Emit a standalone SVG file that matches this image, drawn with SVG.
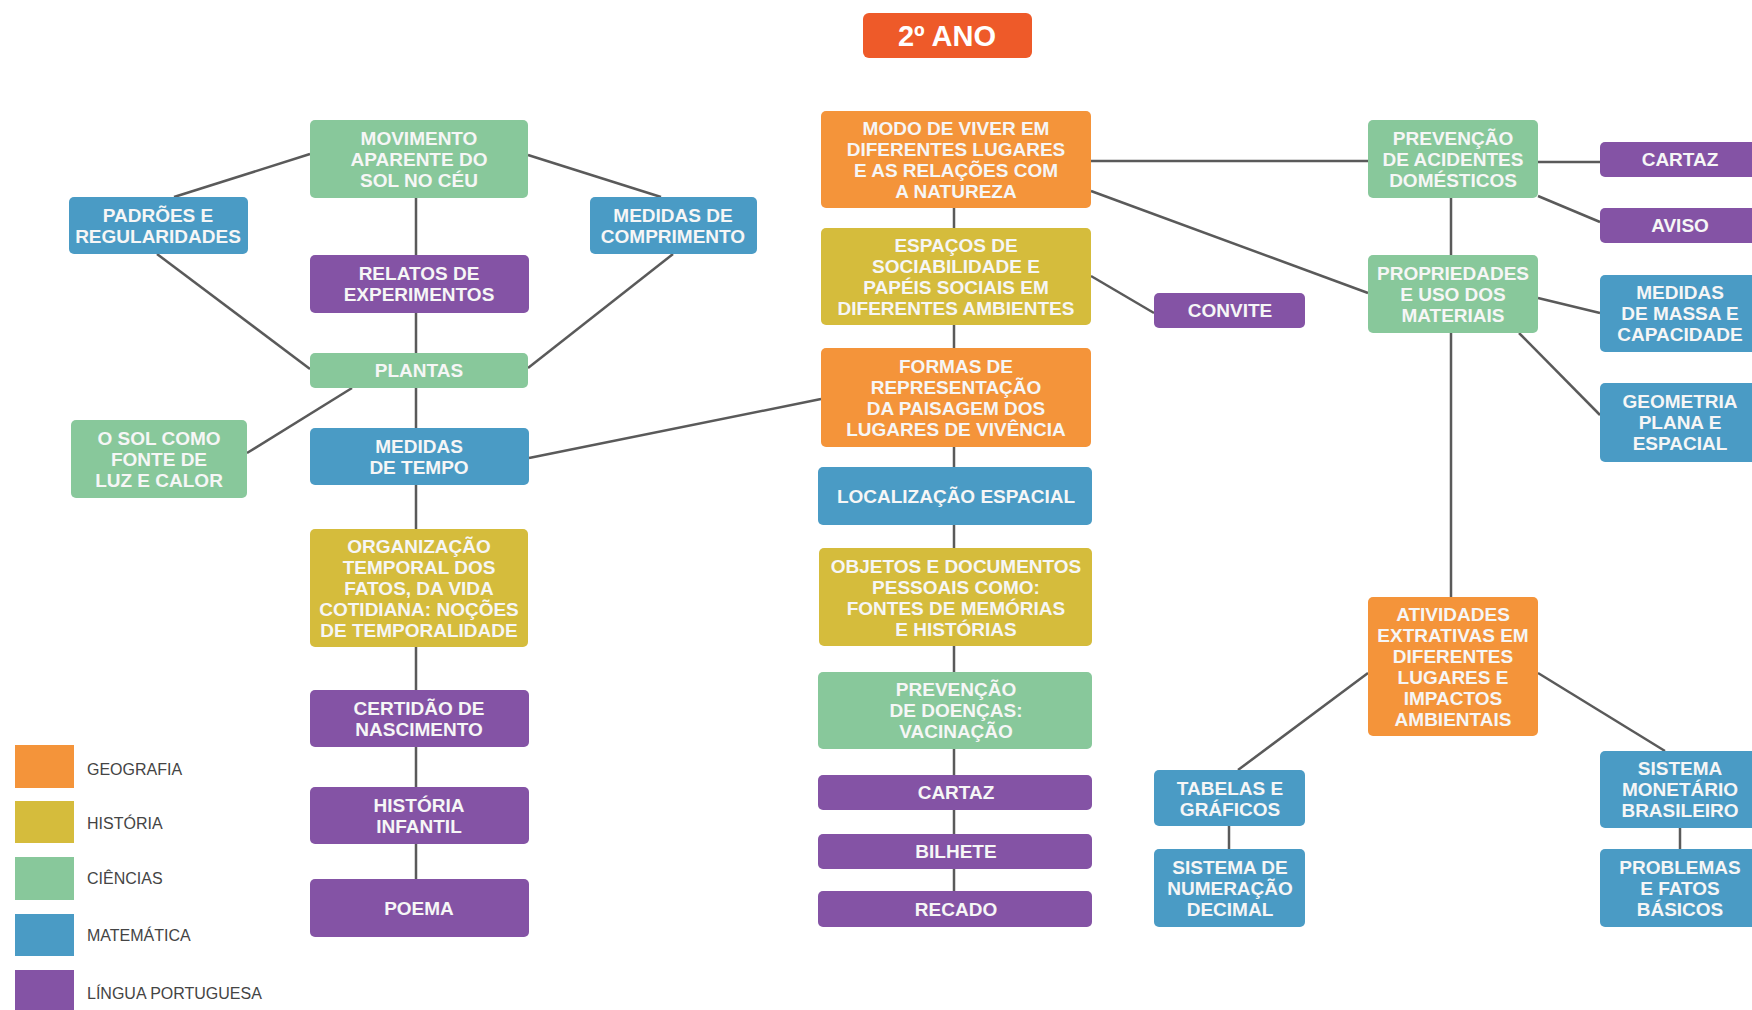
<svg xmlns="http://www.w3.org/2000/svg" width="1752" height="1010" viewBox="0 0 1752 1010">
<style>
.bx{stroke:none}
.geo{fill:#F4943A}
.his{fill:#D5BC3C}
.cie{fill:#88C89B}
.mat{fill:#4A9BC5}
.lp{fill:#8453A5}
.t{font-family:"Liberation Sans",Arial,sans-serif;font-weight:bold;font-size:19px;fill:#F6F6F6;text-anchor:middle}
.lg{font-family:"Liberation Sans",Arial,sans-serif;font-size:16px;fill:#444}
.c line{stroke:#5A5A5A;stroke-width:2.5}
</style>
<rect width="1752" height="1010" fill="#FFFFFF"/>
<g class="c" id="connectors">
<line x1="416" y1="198" x2="416" y2="879"/>
<line x1="310" y1="154" x2="174" y2="197"/>
<line x1="157" y1="254" x2="310" y2="369"/>
<line x1="352" y1="388" x2="247" y2="453"/>
<line x1="528" y1="155" x2="661" y2="197"/>
<line x1="673" y1="254" x2="528" y2="368"/>
<line x1="529" y1="458" x2="821" y2="399"/>
<line x1="954" y1="208" x2="954" y2="891"/>
<line x1="1091" y1="161" x2="1368" y2="161"/>
<line x1="1091" y1="191" x2="1368" y2="293"/>
<line x1="1091" y1="276" x2="1154" y2="313"/>
<line x1="1538" y1="162" x2="1600" y2="162"/>
<line x1="1538" y1="196" x2="1600" y2="222"/>
<line x1="1451" y1="198" x2="1451" y2="597"/>
<line x1="1538" y1="298" x2="1600" y2="313"/>
<line x1="1519" y1="333" x2="1600" y2="415"/>
<line x1="1368" y1="673" x2="1238" y2="770"/>
<line x1="1538" y1="673" x2="1665" y2="751"/>
<line x1="1229" y1="826" x2="1229" y2="849"/>
<line x1="1680" y1="828" x2="1680" y2="849"/>
</g>
<g id="n-ano"><rect x="863" y="13" width="169" height="45" rx="6" fill="#EE5A29"/><text x="947" y="46" font-family="Liberation Sans, Arial, sans-serif" font-weight="bold" font-size="29" fill="#FFFFFF" text-anchor="middle">2º ANO</text></g>
<g id="n-movimento"><rect class="bx cie" x="310" y="120" width="218" height="78" rx="5"/><text class="t"><tspan x="419" y="145">MOVIMENTO</tspan><tspan x="419" y="166">APARENTE DO</tspan><tspan x="419" y="187">SOL NO CÉU</tspan></text></g>
<g id="n-padroes"><rect class="bx mat" x="69" y="197" width="179" height="57" rx="5"/><text class="t"><tspan x="158" y="222">PADRÕES E</tspan><tspan x="158" y="243">REGULARIDADES</tspan></text></g>
<g id="n-medcomp"><rect class="bx mat" x="590" y="197" width="167" height="57" rx="5"/><text class="t"><tspan x="673" y="222">MEDIDAS DE</tspan><tspan x="673" y="243">COMPRIMENTO</tspan></text></g>
<g id="n-relatos"><rect class="bx lp" x="310" y="255" width="219" height="58" rx="5"/><text class="t"><tspan x="419" y="280">RELATOS DE</tspan><tspan x="419" y="301">EXPERIMENTOS</tspan></text></g>
<g id="n-plantas"><rect class="bx cie" x="310" y="353" width="218" height="35" rx="5"/><text class="t" x="419" y="377">PLANTAS</text></g>
<g id="n-osol"><rect class="bx cie" x="71" y="420" width="176" height="78" rx="5"/><text class="t"><tspan x="159" y="445">O SOL COMO</tspan><tspan x="159" y="466">FONTE DE</tspan><tspan x="159" y="487">LUZ E CALOR</tspan></text></g>
<g id="n-medtempo"><rect class="bx mat" x="310" y="428" width="219" height="57" rx="5"/><text class="t"><tspan x="419" y="453">MEDIDAS</tspan><tspan x="419" y="474">DE TEMPO</tspan></text></g>
<g id="n-organizacao"><rect class="bx his" x="310" y="529" width="218" height="118" rx="5"/><text class="t"><tspan x="419" y="553">ORGANIZAÇÃO</tspan><tspan x="419" y="574">TEMPORAL DOS</tspan><tspan x="419" y="595">FATOS, DA VIDA</tspan><tspan x="419" y="616">COTIDIANA: NOÇÕES</tspan><tspan x="419" y="637">DE TEMPORALIDADE</tspan></text></g>
<g id="n-certidao"><rect class="bx lp" x="310" y="690" width="219" height="57" rx="5"/><text class="t"><tspan x="419" y="715">CERTIDÃO DE</tspan><tspan x="419" y="736">NASCIMENTO</tspan></text></g>
<g id="n-historia"><rect class="bx lp" x="310" y="787" width="219" height="57" rx="5"/><text class="t"><tspan x="419" y="812">HISTÓRIA</tspan><tspan x="419" y="833">INFANTIL</tspan></text></g>
<g id="n-poema"><rect class="bx lp" x="310" y="879" width="219" height="58" rx="5"/><text class="t" x="419" y="915">POEMA</text></g>
<g id="n-modo"><rect class="bx geo" x="821" y="111" width="270" height="97" rx="5"/><text class="t"><tspan x="956" y="135">MODO DE VIVER EM</tspan><tspan x="956" y="156">DIFERENTES LUGARES</tspan><tspan x="956" y="177">E AS RELAÇÕES COM</tspan><tspan x="956" y="198">A NATUREZA</tspan></text></g>
<g id="n-espacos"><rect class="bx his" x="821" y="228" width="270" height="97" rx="5"/><text class="t"><tspan x="956" y="252">ESPAÇOS DE</tspan><tspan x="956" y="273">SOCIABILIDADE E</tspan><tspan x="956" y="294">PAPÉIS SOCIAIS EM</tspan><tspan x="956" y="315">DIFERENTES AMBIENTES</tspan></text></g>
<g id="n-formas"><rect class="bx geo" x="821" y="348" width="270" height="99" rx="5"/><text class="t"><tspan x="956" y="373">FORMAS DE</tspan><tspan x="956" y="394">REPRESENTAÇÃO</tspan><tspan x="956" y="415">DA PAISAGEM DOS</tspan><tspan x="956" y="436">LUGARES DE VIVÊNCIA</tspan></text></g>
<g id="n-localizacao"><rect class="bx mat" x="818" y="467" width="274" height="58" rx="5"/><text class="t" x="956" y="503">LOCALIZAÇÃO ESPACIAL</text></g>
<g id="n-objetos"><rect class="bx his" x="819" y="548" width="273" height="98" rx="5"/><text class="t"><tspan x="956" y="573">OBJETOS E DOCUMENTOS</tspan><tspan x="956" y="594">PESSOAIS COMO:</tspan><tspan x="956" y="615">FONTES DE MEMÓRIAS</tspan><tspan x="956" y="636">E HISTÓRIAS</tspan></text></g>
<g id="n-prevdoencas"><rect class="bx cie" x="818" y="672" width="274" height="77" rx="5"/><text class="t"><tspan x="956" y="696">PREVENÇÃO</tspan><tspan x="956" y="717">DE DOENÇAS:</tspan><tspan x="956" y="738">VACINAÇÃO</tspan></text></g>
<g id="n-cartaz1"><rect class="bx lp" x="818" y="775" width="274" height="35" rx="5"/><text class="t" x="956" y="799">CARTAZ</text></g>
<g id="n-bilhete"><rect class="bx lp" x="818" y="834" width="274" height="35" rx="5"/><text class="t" x="956" y="858">BILHETE</text></g>
<g id="n-recado"><rect class="bx lp" x="818" y="891" width="274" height="36" rx="5"/><text class="t" x="956" y="916">RECADO</text></g>
<g id="n-convite"><rect class="bx lp" x="1154" y="293" width="151" height="35" rx="5"/><text class="t" x="1230" y="317">CONVITE</text></g>
<g id="n-prevacid"><rect class="bx cie" x="1368" y="120" width="170" height="78" rx="5"/><text class="t"><tspan x="1453" y="145">PREVENÇÃO</tspan><tspan x="1453" y="166">DE ACIDENTES</tspan><tspan x="1453" y="187">DOMÉSTICOS</tspan></text></g>
<g id="n-propriedades"><rect class="bx cie" x="1368" y="255" width="170" height="78" rx="5"/><text class="t"><tspan x="1453" y="280">PROPRIEDADES</tspan><tspan x="1453" y="301">E USO DOS</tspan><tspan x="1453" y="322">MATERIAIS</tspan></text></g>
<g id="n-atividades"><rect class="bx geo" x="1368" y="597" width="170" height="139" rx="5"/><text class="t"><tspan x="1453" y="621">ATIVIDADES</tspan><tspan x="1453" y="642">EXTRATIVAS EM</tspan><tspan x="1453" y="663">DIFERENTES</tspan><tspan x="1453" y="684">LUGARES E</tspan><tspan x="1453" y="705">IMPACTOS</tspan><tspan x="1453" y="726">AMBIENTAIS</tspan></text></g>
<g id="n-tabelas"><rect class="bx mat" x="1154" y="770" width="151" height="56" rx="5"/><text class="t"><tspan x="1230" y="795">TABELAS E</tspan><tspan x="1230" y="816">GRÁFICOS</tspan></text></g>
<g id="n-sisnum"><rect class="bx mat" x="1154" y="849" width="151" height="78" rx="5"/><text class="t"><tspan x="1230" y="874">SISTEMA DE</tspan><tspan x="1230" y="895">NUMERAÇÃO</tspan><tspan x="1230" y="916">DECIMAL</tspan></text></g>
<g id="n-cartaz2"><rect class="bx lp" x="1600" y="142" width="162" height="35" rx="5"/><text class="t" x="1680" y="166">CARTAZ</text></g>
<g id="n-aviso"><rect class="bx lp" x="1600" y="208" width="162" height="35" rx="5"/><text class="t" x="1680" y="232">AVISO</text></g>
<g id="n-medmassa"><rect class="bx mat" x="1600" y="275" width="162" height="77" rx="5"/><text class="t"><tspan x="1680" y="299">MEDIDAS</tspan><tspan x="1680" y="320">DE MASSA E</tspan><tspan x="1680" y="341">CAPACIDADE</tspan></text></g>
<g id="n-geometria"><rect class="bx mat" x="1600" y="383" width="162" height="79" rx="5"/><text class="t"><tspan x="1680" y="408">GEOMETRIA</tspan><tspan x="1680" y="429">PLANA E</tspan><tspan x="1680" y="450">ESPACIAL</tspan></text></g>
<g id="n-sismon"><rect class="bx mat" x="1600" y="751" width="162" height="77" rx="5"/><text class="t"><tspan x="1680" y="775">SISTEMA</tspan><tspan x="1680" y="796">MONETÁRIO</tspan><tspan x="1680" y="817">BRASILEIRO</tspan></text></g>
<g id="n-problemas"><rect class="bx mat" x="1600" y="849" width="162" height="78" rx="5"/><text class="t"><tspan x="1680" y="874">PROBLEMAS</tspan><tspan x="1680" y="895">E FATOS</tspan><tspan x="1680" y="916">BÁSICOS</tspan></text></g>
<g id="legend">
<rect class="geo" x="15" y="745" width="59" height="43"/><text class="lg" x="87" y="775">GEOGRAFIA</text>
<rect class="his" x="15" y="801" width="59" height="42"/><text class="lg" x="87" y="829">HISTÓRIA</text>
<rect class="cie" x="15" y="857" width="59" height="43"/><text class="lg" x="87" y="884">CIÊNCIAS</text>
<rect class="mat" x="15" y="914" width="59" height="42"/><text class="lg" x="87" y="941">MATEMÁTICA</text>
<rect class="lp" x="15" y="970" width="59" height="42"/><text class="lg" x="87" y="999">LÍNGUA PORTUGUESA</text>
</g>
</svg>
